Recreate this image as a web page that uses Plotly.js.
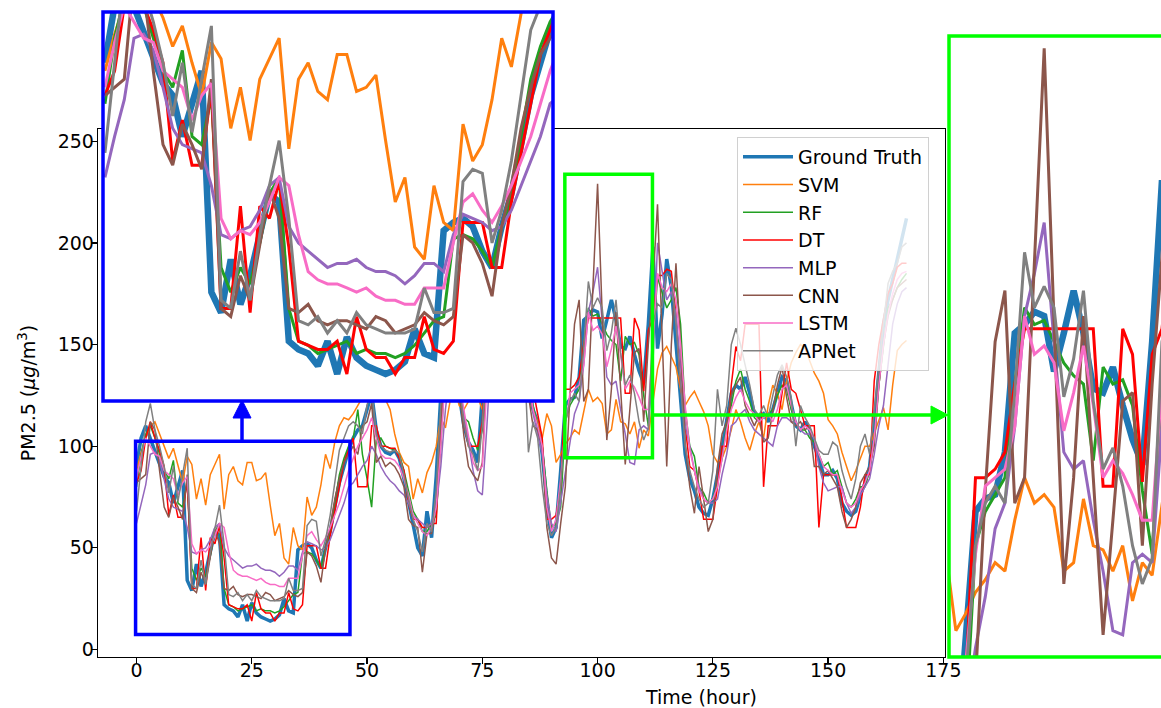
<!DOCTYPE html>
<html><head><meta charset="utf-8">
<script src="https://cdn.plot.ly/plotly-3.0.1.min.js"></script>
<style>html,body{margin:0;padding:0;background:#fff;}#chart{width:1161px;height:708px;}</style>
</head><body><div id="chart"></div>
<script>
const hours = [0,1,2,3,4,5,6,7,8,9,10,11,12,13,14,15,16,17,18,19,20,21,22,23,24,25,26,27,28,29,30,31,32,33,34,35,36,37,38,39,40,41,42,43,44,45,46,47,48,49,50,51,52,53,54,55,56,57,58,59,60,61,62,63,64,65,66,67,68,69,70,71,72,73,74,75,76,77,78,79,80,81,82,83,84,85,86,87,88,89,90,91,92,93,94,95,96,97,98,99,100,101,102,103,104,105,106,107,108,109,110,111,112,113,114,115,116,117,118,119,120,121,122,123,124,125,126,127,128,129,130,131,132,133,134,135,136,137,138,139,140,141,142,143,144,145,146,147,148,149,150,151,152,153,154,155,156,157,158,159,160,161,162,163,164,165,166,167];

const groundTruth = [
90,104,110,104,97,91,85,82,72,80,88,34,
29,42,31,38,48,58,56,22,20,19,16,22,
14,23,18,16,15,14,15,17,25,19,18,49,
51,52,50,44,40,50,58,70,82,90,98,104,
108,110,118,126,108,100,97,96,98,94,84,72,
62,50,46,68,55,85,125,148,156,150,125,110,
102,98,92,128,158,172,188,198,186,172,164,176,
160,128,118,112,96,72,55,60,88,120,123,124,
134,162,164,167,166,153,162,172,162,149,148,154,
145,137,131,160,198,148,165,192,178,150,124,96,
84,78,70,67,66,74,86,100,113,126,130,128,
134,126,116,114,116,112,118,126,134,132,120,110,
108,112,108,100,94,86,86,88,84,72,68,66,
68,76,82,90,112,138,160,172,182,192,203,212];

const svm = [
88,97,104,110,112,106,101,94,99,90,82,95,
91,74,84,71,86,91,96,69,86,90,83,81,
92,92,83,84,87,71,56,62,45,42,60,51,
49,75,66,70,81,96,89,102,110,114,113,116,
120,124,130,128,124,126,123,118,106,97,92,90,
74,84,77,87,92,100,114,109,122,128,120,118,
122,126,124,118,130,140,150,160,168,160,150,158,
140,128,118,112,104,116,110,92,96,101,104,108,
106,118,128,122,124,121,106,108,123,112,111,106,
112,99,108,105,121,138,146,149,144,139,128,120,
124,127,122,117,110,96,92,94,100,108,118,112,
104,98,106,112,104,120,130,126,118,132,141,146,
150,148,142,136,132,126,113,110,106,97,90,83,
88,94,100,100,106,112,119,108,130,147,150,152];

const rf = [
80,96,106,110,104,96,88,84,93,72,70,82,
40,34,40,36,46,58,62,30,22,21,19,20,
21,22,19,20,19,19,18,19,21,24,27,28,
47,48,47,44,40,50,57,72,86,94,100,104,
118,96,84,70,103,104,100,99,98,96,88,78,
68,64,58,58,62,66,100,140,150,152,128,114,
112,104,98,108,150,168,180,192,188,175,166,172,
165,135,120,110,100,78,60,62,70,112,120,124,
128,150,168,164,165,160,155,152,150,132,154,150,
151,145,125,110,150,183,175,168,172,178,160,118,
100,95,80,77,72,74,82,94,110,120,132,138,
128,122,114,112,114,116,118,125,130,128,118,112,
108,108,104,102,96,90,92,86,88,80,72,70,
74,80,80,88,104,130,150,168,172,178,182,185];

const dt = [
82,88,104,112,104,98,90,66,76,65,65,84,
30,30,55,29,55,52,61,45,22,21,20,20,
22,14,28,20,18,18,14,18,18,28,20,19,
22,51,51,51,40,40,56,68,80,92,98,104,
80,80,80,110,110,100,100,99,99,94,88,72,
64,64,60,60,62,62,110,148,156,150,128,112,
100,100,100,112,158,172,186,198,198,172,164,176,
160,140,128,116,104,64,64,66,80,128,128,130,
134,150,163,163,163,163,163,163,163,163,126,126,
163,157,127,157,163,184,184,187,186,165,130,110,
90,88,78,64,64,64,80,100,100,130,149,142,
160,160,160,160,80,110,110,110,126,141,128,126,
118,110,110,110,60,86,86,86,86,74,60,60,
60,70,86,86,132,150,162,175,180,188,190,190];

const mlp = [
62,72,81,96,97,93,84,74,70,69,68,60,
48,47,49,50,54,60,62,50,46,44,42,40,
41,41,42,40,39,39,38,36,38,41,41,39,
48,53,52,51,49,50,54,60,66,72,80,82,
86,90,93,100,96,90,86,83,81,78,76,72,
66,64,62,60,62,70,90,118,138,146,130,116,
100,88,78,76,110,150,170,182,184,172,160,162,
158,138,116,106,96,76,62,58,72,88,100,116,
122,140,166,176,188,160,134,130,132,118,106,92,
91,108,110,108,140,200,185,172,176,165,140,110,
100,88,80,74,72,72,74,86,96,110,112,116,
118,112,108,106,104,102,100,110,114,114,112,112,
108,106,106,104,90,82,78,79,80,80,72,67,
70,76,80,84,96,110,120,140,160,170,176,178];

const cnn = [
82,84,86,112,108,88,70,65,75,70,64,86,
30,28,38,32,46,59,52,30,29,31,27,26,
27,27,26,25,28,27,24,25,26,29,27,26,
28,48,46,41,33,50,60,74,84,92,96,100,
96,110,112,121,92,95,90,92,90,86,80,64,
61,60,38,57,57,70,110,142,152,150,128,105,
90,86,83,92,140,168,182,190,185,170,160,168,
150,125,110,108,100,60,45,42,62,80,125,160,
172,122,128,180,229,165,103,128,166,128,91,118,
146,148,112,150,180,219,150,90,150,190,150,101,
80,67,90,75,58,64,90,106,112,125,130,134,
120,115,110,115,102,104,118,130,139,124,112,110,
112,108,110,90,90,86,88,84,80,68,60,64,
70,82,86,90,100,130,150,164,172,178,180,182];

const lstm = [
84,95,104,100,96,95,88,86,84,76,82,85,
52,47,49,48,51,56,62,60,48,39,37,36,
36,35,34,35,33,32,32,31,31,35,35,35,
46,56,58,54,51,55,60,66,72,80,88,94,
100,104,108,114,104,96,94,94,93,90,84,76,
66,62,58,56,60,70,100,136,150,150,132,118,
104,92,88,90,130,160,178,190,186,174,165,170,
160,136,118,110,100,70,58,64,84,110,126,128,
130,140,166,157,159,155,139,148,159,145,128,132,
129,124,118,118,150,185,178,176,180,172,150,120,
98,88,78,74,72,74,80,94,108,118,124,128,
122,118,116,112,114,116,112,118,128,130,120,112,
108,110,108,104,96,90,88,86,86,78,72,70,
72,78,82,88,104,130,150,165,175,182,185,186];

const apnet = [
68,90,112,121,108,100,90,77,90,73,86,99,
32,30,44,32,48,60,71,52,27,26,28,24,
27,24,29,26,25,24,24,24,25,35,29,29,
30,61,64,63,46,54,66,82,98,104,110,112,
110,106,120,128,106,100,98,97,98,96,86,74,
64,58,48,62,58,78,120,150,160,152,130,112,
100,96,88,110,150,170,190,200,190,176,168,176,
150,97,112,104,80,62,56,60,80,112,122,126,
122,148,181,168,173,168,147,156,172,146,130,135,
126,112,103,109,160,170,168,185,182,160,130,100,
88,80,74,70,72,88,128,110,120,150,158,150,
140,130,118,115,120,114,125,135,140,134,124,100,
120,114,110,104,98,96,96,102,100,88,80,74,
84,100,106,96,118,140,160,180,186,190,198,200];

const seriesNames = ['Ground Truth','SVM','RF','DT','MLP','CNN','LSTM','APNet'];
const xTicks = [0,25,50,75,100,125,150,175];
const yTicks = [0,50,100,150,200,250];

const seriesValues = [groundTruth, svm, rf, dt, mlp, cnn, lstm, apnet];
const colors = ['#1f77b4','#ff7f0e','#22a022','#ff0000','#9467bd','#8c564b','#f86cc6','#808080'];
const mainWidths = [3.5,1.5,1.5,1.5,1.5,1.5,1.5,1.5];
const insetWidths = [6.5,3,3,3,3,3,3,3];

const W = 1161, H = 708;
const px = v => v / W;
const py = v => 1 - v / H;

const traces = [];
seriesValues.forEach((vals, i) => {
  traces.push({x: hours, y: vals, type: 'scatter', mode: 'lines', name: seriesNames[i],
    line: {color: colors[i], width: mainWidths[i]}, xaxis: 'x', yaxis: 'y', hoverinfo: 'skip'});
});
seriesValues.forEach((vals, i) => {
  traces.push({x: hours, y: vals, type: 'scatter', mode: 'lines', name: seriesNames[i], showlegend: false,
    line: {color: colors[i], width: insetWidths[i]}, xaxis: 'x2', yaxis: 'y2', hoverinfo: 'skip'});
});
seriesValues.forEach((vals, i) => {
  traces.push({x: hours, y: vals, type: 'scatter', mode: 'lines', name: seriesNames[i], showlegend: false,
    line: {color: colors[i], width: insetWidths[i]}, xaxis: 'x3', yaxis: 'y3', hoverinfo: 'skip'});
});

const hiddenAxis = {showticklabels: false, showgrid: false, zeroline: false, ticks: '', showline: false, fixedrange: true};
const blue = '#0000ff', green = '#00ff00';

const layout = {
  width: W, height: H, margin: {l: 0, r: 0, t: 0, b: 0},
  paper_bgcolor: 'white', plot_bgcolor: 'white',
  font: {family: 'DejaVu Sans, sans-serif', size: 19, color: 'black'},
  showlegend: true,
  legend: {x: px(737), y: py(137), xanchor: 'left', yanchor: 'top',
    bgcolor: 'rgba(255,255,255,0.8)', bordercolor: '#d0d0d0', borderwidth: 1,
    font: {size: 19}, itemwidth: 50},
  xaxis: {domain: [px(98), px(945)], range: [-8.35, 175.35], tickvals: xTicks, ticks: 'outside',
    ticklen: 6, tickwidth: 1.3, tickcolor: 'black', showline: true, linecolor: 'black', linewidth: 1.3,
    mirror: true, showgrid: false, zeroline: false, tickfont: {size: 19}, anchor: 'y', ticklabelstandoff: -10},
  yaxis: {domain: [py(657), py(129)], range: [-3.7, 256], tickvals: yTicks, ticks: 'outside',
    ticklen: 6, tickwidth: 1.3, tickcolor: 'black', showline: true, linecolor: 'black', linewidth: 1.3,
    mirror: true, showgrid: false, zeroline: false, tickfont: {size: 19}, anchor: 'x', ticklabelstandoff: -7,
    title: {text: 'PM2.5 (<i>μg</i>/m<sup>3</sup>)', font: {size: 19}, standoff: 17}},
  xaxis2: Object.assign({domain: [px(103), px(553)], range: [-0.2, 46.3], anchor: 'y2'}, hiddenAxis),
  yaxis2: Object.assign({domain: [py(401), py(12)], range: [7.4, 102.4], anchor: 'x2'}, hiddenAxis),
  xaxis3: Object.assign({domain: [px(948), 1], range: [90.2, 111.9], anchor: 'y3'}, hiddenAxis),
  yaxis3: Object.assign({domain: [py(657), py(36)], range: [85.8, 231.9], anchor: 'x3'}, hiddenAxis),
  annotations: [
    {text: 'Time (hour)', xref: 'paper', yref: 'paper', x: px(701), y: py(697), xanchor: 'center', yanchor: 'middle',
     showarrow: false, font: {size: 19}}
  ],
  shapes: [
    {type: 'rect', xref: 'x', yref: 'y', x0: -0.2, x1: 46.3, y0: 7.4, y1: 102.4, line: {color: blue, width: 3.5}},
    {type: 'rect', xref: 'x', yref: 'y', x0: 92.9, x1: 111.9, y0: 94.3, y1: 233.8, line: {color: green, width: 3.5}},
    {type: 'rect', xref: 'paper', yref: 'paper', x0: px(103), x1: px(553), y0: py(401), y1: py(12), line: {color: blue, width: 3.5}},
    {type: 'rect', xref: 'paper', yref: 'paper', x0: px(949), x1: 1.02, y0: py(657), y1: py(36), line: {color: green, width: 3.5}},
    {type: 'line', xref: 'paper', yref: 'paper', x0: px(242), x1: px(242), y0: py(442), y1: py(416), line: {color: blue, width: 3.5}},
    {type: 'path', xref: 'paper', yref: 'paper',
     path: 'M ' + px(233) + ',' + py(418) + ' L ' + px(251) + ',' + py(418) + ' L ' + px(242) + ',' + py(400) + ' Z',
     fillcolor: blue, line: {color: blue, width: 1}},
    {type: 'line', xref: 'paper', yref: 'paper', x0: px(654), x1: px(933), y0: py(415), y1: py(415), line: {color: green, width: 3.5}},
    {type: 'path', xref: 'paper', yref: 'paper',
     path: 'M ' + px(931) + ',' + py(406) + ' L ' + px(931) + ',' + py(424) + ' L ' + px(948) + ',' + py(415) + ' Z',
     fillcolor: green, line: {color: green, width: 1}}
  ]
};

Plotly.newPlot('chart', traces, layout, {displayModeBar: false, staticPlot: true});
</script>
</body></html>
